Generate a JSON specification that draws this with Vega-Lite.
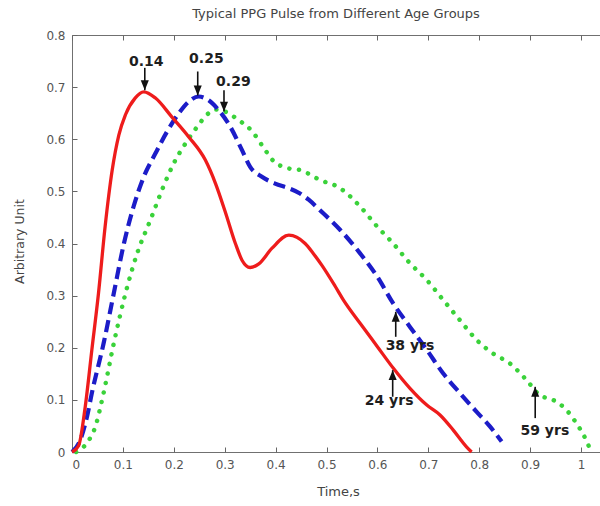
{
  "$schema": "https://vega.github.io/schema/vega-lite/v6.json",
  "width": 528,
  "height": 417,
  "autosize": "none",
  "padding": {"left": 72, "top": 35, "right": 0, "bottom": 54},
  "background": "white",
  "config": {
    "view": {"stroke": "#707070", "strokeWidth": 1},
    "font": "DejaVu Sans",
    "axis": {"grid": false, "domain": false, "tickColor": "#666666", "tickSize": -5, "labelColor": "#555555", "labelFont": "DejaVu Sans", "labelFontSize": 12, "titleColor": "#444444", "titleFont": "DejaVu Sans", "titleFontWeight": "normal"}
  },
  "title": {"text": "Typical PPG Pulse from Different Age Groups", "font": "DejaVu Sans", "fontSize": 13, "fontWeight": "normal", "color": "#444444", "anchor": "middle", "offset": 8},
  "datasets": {
    "curves": [
      {"age": "24 yrs", "t": 0, "v": 0}, {"age": "24 yrs", "t": 0.013, "v": 0.012}, {"age": "24 yrs", "t": 0.026, "v": 0.087}, {"age": "24 yrs", "t": 0.039, "v": 0.196}, {"age": "24 yrs", "t": 0.052, "v": 0.304}, {"age": "24 yrs", "t": 0.065, "v": 0.432}, {"age": "24 yrs", "t": 0.079, "v": 0.541}, {"age": "24 yrs", "t": 0.092, "v": 0.608}, {"age": "24 yrs", "t": 0.105, "v": 0.647}, {"age": "24 yrs", "t": 0.124, "v": 0.679}, {"age": "24 yrs", "t": 0.141, "v": 0.691}, {"age": "24 yrs", "t": 0.164, "v": 0.679}, {"age": "24 yrs", "t": 0.196, "v": 0.643}, {"age": "24 yrs", "t": 0.229, "v": 0.605}, {"age": "24 yrs", "t": 0.262, "v": 0.56}, {"age": "24 yrs", "t": 0.282, "v": 0.515}, {"age": "24 yrs", "t": 0.301, "v": 0.461}, {"age": "24 yrs", "t": 0.321, "v": 0.4}, {"age": "24 yrs", "t": 0.334, "v": 0.368}, {"age": "24 yrs", "t": 0.35, "v": 0.354}, {"age": "24 yrs", "t": 0.367, "v": 0.361}, {"age": "24 yrs", "t": 0.393, "v": 0.391}, {"age": "24 yrs", "t": 0.426, "v": 0.416}, {"age": "24 yrs", "t": 0.458, "v": 0.4}, {"age": "24 yrs", "t": 0.474, "v": 0.381}, {"age": "24 yrs", "t": 0.491, "v": 0.358}, {"age": "24 yrs", "t": 0.517, "v": 0.318}, {"age": "24 yrs", "t": 0.533, "v": 0.292}, {"age": "24 yrs", "t": 0.566, "v": 0.247}, {"age": "24 yrs", "t": 0.6, "v": 0.202}, {"age": "24 yrs", "t": 0.631, "v": 0.161}, {"age": "24 yrs", "t": 0.664, "v": 0.122}, {"age": "24 yrs", "t": 0.697, "v": 0.09}, {"age": "24 yrs", "t": 0.723, "v": 0.071}, {"age": "24 yrs", "t": 0.749, "v": 0.042}, {"age": "24 yrs", "t": 0.775, "v": 0.01}, {"age": "24 yrs", "t": 0.785, "v": 0},
      {"age": "38 yrs", "t": 0, "v": 0}, {"age": "38 yrs", "t": 0.015, "v": 0.02}, {"age": "38 yrs", "t": 0.03, "v": 0.07}, {"age": "38 yrs", "t": 0.039, "v": 0.113}, {"age": "38 yrs", "t": 0.062, "v": 0.208}, {"age": "38 yrs", "t": 0.082, "v": 0.304}, {"age": "38 yrs", "t": 0.102, "v": 0.4}, {"age": "38 yrs", "t": 0.121, "v": 0.471}, {"age": "38 yrs", "t": 0.141, "v": 0.528}, {"age": "38 yrs", "t": 0.164, "v": 0.573}, {"age": "38 yrs", "t": 0.187, "v": 0.615}, {"age": "38 yrs", "t": 0.21, "v": 0.65}, {"age": "38 yrs", "t": 0.229, "v": 0.672}, {"age": "38 yrs", "t": 0.249, "v": 0.682}, {"age": "38 yrs", "t": 0.268, "v": 0.675}, {"age": "38 yrs", "t": 0.288, "v": 0.656}, {"age": "38 yrs", "t": 0.311, "v": 0.624}, {"age": "38 yrs", "t": 0.334, "v": 0.579}, {"age": "38 yrs", "t": 0.35, "v": 0.547}, {"age": "38 yrs", "t": 0.373, "v": 0.528}, {"age": "38 yrs", "t": 0.399, "v": 0.515}, {"age": "38 yrs", "t": 0.426, "v": 0.506}, {"age": "38 yrs", "t": 0.448, "v": 0.496}, {"age": "38 yrs", "t": 0.465, "v": 0.484}, {"age": "38 yrs", "t": 0.487, "v": 0.464}, {"age": "38 yrs", "t": 0.527, "v": 0.426}, {"age": "38 yrs", "t": 0.566, "v": 0.381}, {"age": "38 yrs", "t": 0.6, "v": 0.336}, {"age": "38 yrs", "t": 0.631, "v": 0.285}, {"age": "38 yrs", "t": 0.664, "v": 0.24}, {"age": "38 yrs", "t": 0.697, "v": 0.196}, {"age": "38 yrs", "t": 0.729, "v": 0.151}, {"age": "38 yrs", "t": 0.762, "v": 0.113}, {"age": "38 yrs", "t": 0.795, "v": 0.077}, {"age": "38 yrs", "t": 0.821, "v": 0.049}, {"age": "38 yrs", "t": 0.844, "v": 0.02},
      {"age": "59 yrs", "t": 0.008, "v": 0}, {"age": "59 yrs", "t": 0.029, "v": 0.017}, {"age": "59 yrs", "t": 0.046, "v": 0.049}, {"age": "59 yrs", "t": 0.062, "v": 0.113}, {"age": "59 yrs", "t": 0.082, "v": 0.208}, {"age": "59 yrs", "t": 0.105, "v": 0.304}, {"age": "59 yrs", "t": 0.128, "v": 0.381}, {"age": "59 yrs", "t": 0.154, "v": 0.445}, {"age": "59 yrs", "t": 0.177, "v": 0.503}, {"age": "59 yrs", "t": 0.2, "v": 0.554}, {"age": "59 yrs", "t": 0.223, "v": 0.592}, {"age": "59 yrs", "t": 0.246, "v": 0.624}, {"age": "59 yrs", "t": 0.265, "v": 0.647}, {"age": "59 yrs", "t": 0.282, "v": 0.657}, {"age": "59 yrs", "t": 0.301, "v": 0.653}, {"age": "59 yrs", "t": 0.327, "v": 0.637}, {"age": "59 yrs", "t": 0.354, "v": 0.615}, {"age": "59 yrs", "t": 0.377, "v": 0.583}, {"age": "59 yrs", "t": 0.396, "v": 0.558}, {"age": "59 yrs", "t": 0.426, "v": 0.544}, {"age": "59 yrs", "t": 0.448, "v": 0.541}, {"age": "59 yrs", "t": 0.487, "v": 0.522}, {"age": "59 yrs", "t": 0.527, "v": 0.506}, {"age": "59 yrs", "t": 0.566, "v": 0.471}, {"age": "59 yrs", "t": 0.6, "v": 0.432}, {"age": "59 yrs", "t": 0.631, "v": 0.4}, {"age": "59 yrs", "t": 0.664, "v": 0.362}, {"age": "59 yrs", "t": 0.697, "v": 0.33}, {"age": "59 yrs", "t": 0.729, "v": 0.292}, {"age": "59 yrs", "t": 0.762, "v": 0.253}, {"age": "59 yrs", "t": 0.795, "v": 0.215}, {"age": "59 yrs", "t": 0.827, "v": 0.189}, {"age": "59 yrs", "t": 0.86, "v": 0.17}, {"age": "59 yrs", "t": 0.893, "v": 0.138}, {"age": "59 yrs", "t": 0.919, "v": 0.109}, {"age": "59 yrs", "t": 0.945, "v": 0.1}, {"age": "59 yrs", "t": 0.971, "v": 0.081}, {"age": "59 yrs", "t": 0.991, "v": 0.055}, {"age": "59 yrs", "t": 1.01, "v": 0.023}, {"age": "59 yrs", "t": 1.02, "v": 0}
    ],
    "arrows": [
      {"x": 0.143, "tail": 0.737, "tip": 0.694, "dir": "down"},
      {"x": 0.247, "tail": 0.73, "tip": 0.684, "dir": "down"},
      {"x": 0.2986, "tail": 0.694, "tip": 0.653, "dir": "down"},
      {"x": 0.636, "tail": 0.221, "tip": 0.269, "dir": "up"},
      {"x": 0.63, "tail": 0.106, "tip": 0.157, "dir": "up"},
      {"x": 0.91, "tail": 0.065, "tip": 0.125, "dir": "up"}
    ],
    "labels": [
      {"x": 0.146, "y": 0.748, "text": "0.14"},
      {"x": 0.264, "y": 0.754, "text": "0.25"},
      {"x": 0.317, "y": 0.71, "text": "0.29"},
      {"x": 0.664, "y": 0.204, "text": "38 yrs"},
      {"x": 0.623, "y": 0.097, "text": "24 yrs"},
      {"x": 0.929, "y": 0.041, "text": "59 yrs"}
    ]
  },
  "layer": [
    {
      "data": {"name": "curves"},
      "transform": [{"filter": "datum.age === '59 yrs'"}],
      "mark": {"type": "line", "color": "#3ad23a", "strokeWidth": 4.5, "strokeDash": [0.1, 9.6], "strokeCap": "round", "interpolate": "monotone"},
      "encoding": {
        "x": {"field": "t", "type": "quantitative", "scale": {"domain": [0, 1.0373], "nice": false, "zero": false},
          "axis": {"orient": "bottom", "values": [0, 0.1, 0.2, 0.3, 0.4, 0.5, 0.6, 0.7, 0.8, 0.9, 1], "format": "~g", "labelPadding": 12, "title": "Time,s", "titleFontSize": 13, "titleX": 266, "titleY": 39, "titleBaseline": "middle", "titleAlign": "center"}},
        "y": {"field": "v", "type": "quantitative", "scale": {"domain": [0, 0.8], "nice": false},
          "axis": {"values": [0, 0.1, 0.2, 0.3, 0.4, 0.5, 0.6, 0.7, 0.8], "format": "~g", "labelPadding": 12, "title": "Arbitrary Unit", "titleFontSize": 12.5, "titleAngle": 270, "titleX": -53, "titleY": 206, "titleBaseline": "middle", "titleAlign": "center"}}
      }
    },
    {
      "data": {"name": "curves"},
      "transform": [{"filter": "datum.age === '38 yrs'"}],
      "mark": {"type": "line", "color": "#1c1cc8", "strokeWidth": 4.2, "strokeDash": [12, 6], "interpolate": "monotone"},
      "encoding": {
        "x": {"field": "t", "type": "quantitative", "axis": null},
        "y": {"field": "v", "type": "quantitative"}
      }
    },
    {
      "data": {"name": "curves"},
      "transform": [{"filter": "datum.age === '24 yrs'"}],
      "mark": {"type": "line", "color": "#ee1c1c", "strokeWidth": 3.3, "interpolate": "monotone"},
      "encoding": {
        "x": {"field": "t", "type": "quantitative", "axis": null},
        "y": {"field": "v", "type": "quantitative"}
      }
    },
    {
      "data": {"name": "arrows"},
      "mark": {"type": "rule", "color": "#111111", "strokeWidth": 1.6},
      "encoding": {
        "x": {"field": "x", "type": "quantitative", "axis": {"orient": "top", "values": [0, 0.1, 0.2, 0.3, 0.4, 0.5, 0.6, 0.7, 0.8, 0.9, 1], "labels": false, "title": null}},
        "y": {"field": "tail", "type": "quantitative"},
        "y2": {"field": "tip"}
      }
    },
    {
      "data": {"name": "arrows"},
      "mark": {"type": "point", "filled": true, "color": "#111111", "opacity": 1, "size": 90, "strokeWidth": 0},
      "encoding": {
        "x": {"field": "x", "type": "quantitative", "axis": null},
        "y": {"field": "tip", "type": "quantitative"},
        "shape": {"field": "dir", "type": "nominal", "legend": null, "scale": {"domain": ["down", "up"], "range": ["M0,0L-0.85,-2.1L0.85,-2.1Z", "M0,0L-0.85,2.1L0.85,2.1Z"]}}
      }
    },
    {
      "data": {"name": "labels"},
      "mark": {"type": "text", "font": "DejaVu Sans", "fontSize": 14, "fontWeight": "bold", "color": "#1e1e1e", "align": "center", "baseline": "middle"},
      "encoding": {
        "x": {"field": "x", "type": "quantitative", "axis": null},
        "y": {"field": "y", "type": "quantitative"},
        "text": {"field": "text"}
      }
    }
  ],
  "resolve": {"axis": {"x": "independent"}}
}
